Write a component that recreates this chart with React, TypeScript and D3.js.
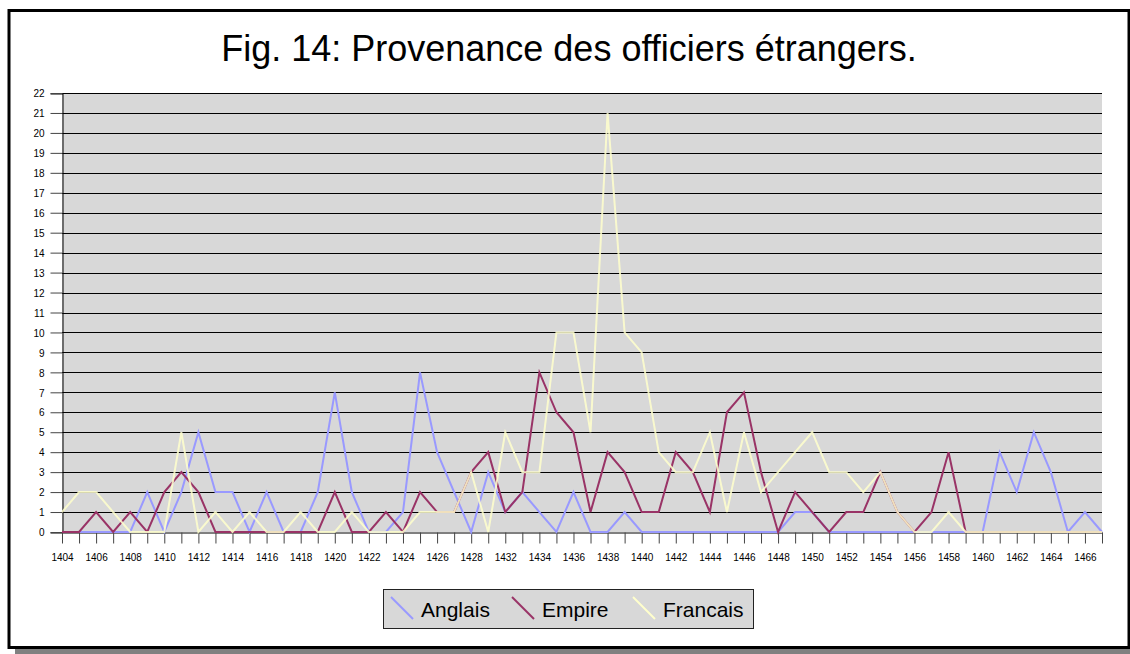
import React, { useEffect, useRef } from 'react';
import * as d3 from 'd3';

// categories: one column is missing between 1428 and 1432 in the source sheet
const years: string[] = [
  '1404', '1405', '1406', '1407', '1408', '1409', '1410', '1411', '1412', '1413',
  '1414', '1415', '1416', '1417', '1418', '1419', '1420', '1421', '1422', '1423',
  '1424', '1425', '1426', '1427', '1428', '1430', '1432', '1433', '1434', '1435',
  '1436', '1437', '1438', '1439', '1440', '1441', '1442', '1443', '1444', '1445',
  '1446', '1447', '1448', '1449', '1450', '1451', '1452', '1453', '1454', '1455',
  '1456', '1457', '1458', '1459', '1460', '1461', '1462', '1463', '1464', '1465',
  '1466', '1467',
];

const anglais: number[] = [
  0, 0, 0, 0, 0, 2, 0, 2, 5, 2,
  2, 0, 2, 0, 0, 2, 7, 2, 0, 0,
  1, 8, 4, 2, 0, 3, 1, 2, 1, 0,
  2, 0, 0, 1, 0, 0, 0, 0, 0, 0,
  0, 0, 0, 1, 1, 0, 0, 0, 0, 0,
  0, 0, 0, 0, 0, 4, 2, 5, 3, 0,
  1, 0,
];

const empire: number[] = [
  0, 0, 1, 0, 1, 0, 2, 3, 2, 0,
  0, 0, 0, 0, 0, 0, 2, 0, 0, 1,
  0, 2, 1, 1, 3, 4, 1, 2, 8, 6,
  5, 1, 4, 3, 1, 1, 4, 3, 1, 6,
  7, 3, 0, 2, 1, 0, 1, 1, 3, 1,
  0, 1, 4, 0, 0, 0, 0, 0, 0, 0,
  0, 0,
];

const francais: number[] = [
  1, 2, 2, 1, 0, 0, 0, 5, 0, 1,
  0, 1, 0, 0, 1, 0, 0, 1, 0, 0,
  0, 1, 1, 1, 3, 0, 5, 3, 3, 10,
  10, 5, 21, 10, 9, 4, 3, 3, 5, 1,
  5, 2, 3, 4, 5, 3, 3, 2, 3, 1,
  0, 0, 1, 0, 0, 0, 0, 0, 0, 0,
  0, 0,
];

const yTicks: number[] = d3.range(0, 23);

const series = [
  { name: 'Anglais', values: anglais, color: '#9999FF', opacity: 1 },
  { name: 'Empire', values: empire, color: '#993366', opacity: 1 },
  { name: 'Francais', values: francais, color: '#FFFFCC', opacity: 0.85 },
];

const FONT = '"Liberation Sans", Arial, sans-serif';

const App = () => {
  const chartRef = useRef<SVGSVGElement | null>(null);

  useEffect(() => {
    const width = 1130;
    const height = 654;
    const plot = { left: 62, right: 1102, top: 93, bottom: 532 };

    const svg = d3.select(chartRef.current)
      .attr('width', width)
      .attr('height', height);
    svg.selectAll('*').remove();

    // frame with drop shadow
    svg.append('rect')
      .attr('x', 15).attr('y', 15)
      .attr('width', 1120).attr('height', 639)
      .attr('fill', '#808080');
    svg.append('rect')
      .attr('x', 9).attr('y', 10.5)
      .attr('width', 1120).attr('height', 637)
      .attr('fill', '#fff')
      .attr('stroke', '#000')
      .attr('stroke-width', 3);

    svg.append('text')
      .attr('x', 569).attr('y', 61)
      .attr('text-anchor', 'middle')
      .attr('font-family', FONT)
      .attr('font-size', 36)
      .attr('fill', '#000')
      .text('Fig. 14: Provenance des officiers étrangers.');

    const x = d3.scalePoint<string>().domain(years).range([plot.left, plot.right]);
    const y = d3.scaleLinear().domain([0, 22]).range([plot.bottom, plot.top]);

    svg.append('rect')
      .attr('x', plot.left).attr('y', plot.top)
      .attr('width', plot.right - plot.left)
      .attr('height', plot.bottom - plot.top)
      .attr('fill', '#D8D8D8');

    // gridlines
    svg.append('g')
      .selectAll('line')
      .data(yTicks.filter(d => d > 0))
      .enter()
      .append('line')
      .attr('x1', plot.left).attr('x2', plot.right)
      .attr('y1', d => Math.round(y(d)) + 0.5)
      .attr('y2', d => Math.round(y(d)) + 0.5)
      .attr('stroke', '#000')
      .attr('stroke-width', 1);

    // y axis
    const yAxis = svg.append('g')
      .attr('transform', `translate(${plot.left + 0.5},0.5)`)
      .call(d3.axisLeft(y).tickValues(yTicks).tickSize(12).tickFormat(d3.format('d')));
    yAxis.select('.domain').attr('stroke', '#000');
    yAxis.selectAll('.tick line').attr('stroke', '#444').attr('transform', 'translate(0,-0.5)');
    yAxis.selectAll('.tick text')
      .attr('font-family', FONT)
      .attr('font-size', 10)
      .attr('fill', '#000')
      .attr('x', -18);

    // x axis
    const xAxis = svg.append('g')
      .attr('transform', `translate(0,${plot.bottom + 0.5})`)
      .call(d3.axisBottom(x).tickSize(11).tickSizeOuter(0)
        .tickFormat((d, i) => (i % 2 === 0 ? d : '')));
    xAxis.select('.domain').attr('stroke', '#000');
    xAxis.selectAll('.tick line').attr('stroke', '#444');
    xAxis.selectAll('.tick text')
      .attr('font-family', FONT)
      .attr('font-size', 10)
      .attr('fill', '#000')
      .attr('y', 21);

    const line = d3.line<number>()
      .x((d, i) => x(years[i]) as number)
      .y(d => y(d));

    series.forEach(s => {
      svg.append('path')
        .datum(s.values)
        .attr('fill', 'none')
        .attr('stroke', s.color)
        .attr('stroke-opacity', s.opacity)
        .attr('stroke-width', 2)
        .attr('stroke-linejoin', 'miter')
        .attr('d', line);
    });

    // legend
    const legend = svg.append('g');
    legend.append('rect')
      .attr('x', 383.5).attr('y', 589.5)
      .attr('width', 370).attr('height', 39)
      .attr('fill', '#D8D8D8')
      .attr('stroke', '#222');
    const legendX = [391, 512, 633];
    series.forEach((s, i) => {
      legend.append('line')
        .attr('x1', legendX[i]).attr('y1', 597)
        .attr('x2', legendX[i] + 22).attr('y2', 619)
        .attr('stroke', s.color)
        .attr('stroke-width', 2);
      legend.append('text')
        .attr('x', legendX[i] + 30).attr('y', 617)
        .attr('font-family', FONT)
        .attr('font-size', 21)
        .attr('fill', '#000')
        .text(s.name);
    });
  }, []);

  return (
    <div style={{ position: 'absolute', left: 0, top: 0 }}>
      <svg ref={chartRef} style={{ display: 'block' }}></svg>
    </div>
  );
};

export default App;
